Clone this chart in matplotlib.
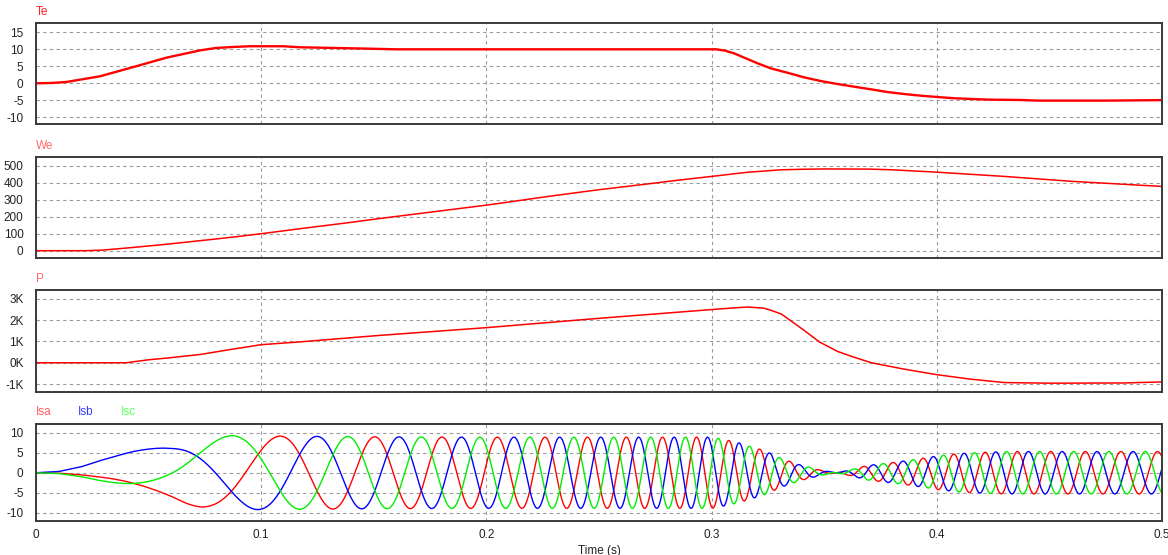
"""
Recreacion de la grafica tipo PSIM: Te, We, P y corrientes de fase Isa/Isb/Isc.
"""

import numpy as np
import matplotlib.pyplot as plt
from matplotlib.ticker import FuncFormatter

plt.rcParams['font.family'] = ['Liberation Sans', 'DejaVu Sans']
plt.rcParams['axes.unicode_minus'] = False

# ─── Datos ──────────────────────────────────────────────────────────────────
# Par electromagnetico Te
te_t = [0, 0.007, 0.0136, 0.0284, 0.0433, 0.058, 0.073, 0.08, 0.088, 0.095,
        0.11, 0.117, 0.132, 0.147, 0.16, 0.30, 0.302, 0.306, 0.31, 0.315,
        0.32, 0.3262, 0.3336, 0.341, 0.3484, 0.3558, 0.3633, 0.3707, 0.378,
        0.3855, 0.393, 0.4003, 0.4077, 0.415, 0.4225, 0.437, 0.445, 0.474, 0.50]
te_v = [0, 0.1, 0.4, 2.06, 4.8, 7.55, 9.7, 10.4, 10.7, 10.9,
        10.9, 10.6, 10.4, 10.2, 10.0, 10.0, 10.0, 9.6, 8.8, 7.4,
        6.0, 4.41, 3.12, 1.76, 0.68, -0.2, -1.0, -1.76, -2.56,
        -3.15, -3.65, -4.03, -4.4, -4.6, -4.8, -4.9, -5.1, -5.1, -4.95]

# Velocidad electrica We (rad/s)
we_t = [0, 0.022, 0.03, 0.043, 0.058, 0.07, 0.08, 0.09, 0.10, 0.12, 0.14,
        0.153, 0.2, 0.2119, 0.2267, 0.2489, 0.2711, 0.2859, 0.30, 0.3156,
        0.331, 0.34, 0.35, 0.37, 0.38, 0.40, 0.43, 0.46, 0.50]
we_v = [0, 0, 4, 19, 38, 55, 69, 84, 100, 134, 167,
        190, 268, 290, 318, 357, 392, 416, 437, 461,
        476, 479, 481, 480, 476, 462, 437, 408, 378]

# Potencia P (kW)
p_t = [0, 0.04, 0.05, 0.058, 0.073, 0.085, 0.10, 0.117, 0.153, 0.20, 0.249,
       0.30, 0.31, 0.316, 0.323, 0.326, 0.331, 0.341, 0.348, 0.356, 0.363,
       0.371, 0.385, 0.40, 0.415, 0.43, 0.45, 0.483, 0.50]
p_v = [0, 0, 0.14, 0.22, 0.39, 0.6, 0.85, 0.98, 1.29, 1.65, 2.08,
       2.5, 2.58, 2.62, 2.57, 2.48, 2.29, 1.53, 0.97, 0.53, 0.27,
       0.0, -0.29, -0.56, -0.77, -0.93, -0.96, -0.95, -0.9]

# Amplitud (con signo) de las corrientes de fase (A)
ia_t = [0, 0.01, 0.02, 0.028, 0.036, 0.043, 0.05, 0.06, 0.067, 0.074, 0.081,
        0.088, 0.10, 0.15, 0.20, 0.29, 0.30, 0.304, 0.3115, 0.317, 0.322,
        0.326, 0.33, 0.335, 0.339, 0.344, 0.348, 0.3555, 0.363, 0.369, 0.375,
        0.381, 0.39, 0.396, 0.40, 0.41, 0.42, 0.43, 0.50]
ia_amp = [0, 0.3, 1.5, 3.0, 4.3, 5.3, 6.0, 6.9, 7.9, 8.7, 9.1,
          9.3, 9.2, 9.0, 8.9, 8.9, 8.9, 8.5, 7.6, 6.6, 5.8,
          4.9, 3.8, 2.8, 2.0, 1.3, 0.7, 0.0, -0.9, -1.8, -2.2,
          -2.6, -3.3, -3.8, -4.2, -4.8, -5.1, -5.3, -5.3]
theta0_deg = 110  # angulo electrico inicial

# ─── Corrientes trifasicas a partir de We y la envolvente ───────────────────
t = np.linspace(0, 0.5, 10001)
we = np.interp(t, we_t, we_v)
theta = np.radians(theta0_deg) + np.concatenate(
    [[0], np.cumsum(0.5 * (we[1:] + we[:-1]) * np.diff(t))])
amp = np.interp(t, ia_t, ia_amp)
isa = amp * np.cos(theta)
isb = amp * np.cos(theta - 2 * np.pi / 3)
isc = amp * np.cos(theta + 2 * np.pi / 3)

# ─── Figura ────────────────────────────────────────────────────────────────
fig = plt.figure(figsize=(11.68, 5.55), dpi=100)
fig.patch.set_facecolor("white")

W = 1168.0
H = 555.0
left = 36 / W
width = 1126 / W
boxes = [(23.3, 124.3), (156.7, 258.3), (290, 391.7), (424, 520.7)]
axes = []
for top, bot in boxes:
    ax = fig.add_axes([left, 1 - bot / H, width, (bot - top) / H])
    axes.append(ax)

ax_te, ax_we, ax_p, ax_i = axes

ax_te.plot(te_t, te_v, color="#ff0000", linewidth=1.7)
ax_we.plot(we_t, we_v, color="#ff0000", linewidth=1.1)
ax_p.plot(p_t, p_v, color="#ff0000", linewidth=1.1)
ax_i.plot(t, isa, color="#ff0000", linewidth=1.0)
ax_i.plot(t, isb, color="#0000ff", linewidth=1.0)
ax_i.plot(t, isc, color="#00ee00", linewidth=1.0)

ax_te.set_ylim(-12.06, 17.65)
ax_te.set_yticks([-10, -5, 0, 5, 10, 15])
ax_we.set_ylim(-44.7, 553)
ax_we.set_yticks([0, 100, 200, 300, 400, 500])
ax_p.set_ylim(-1.36, 3.42)
ax_p.set_yticks([-1, 0, 1, 2, 3])
ax_p.yaxis.set_major_formatter(FuncFormatter(lambda v, pos: "%dK" % round(v)))
ax_i.set_ylim(-12.0, 12.2)
ax_i.set_yticks([-10, -5, 0, 5, 10])

for ax in axes:
    ax.set_xlim(0, 0.5)
    ax.set_xticks([0, 0.1, 0.2, 0.3, 0.4, 0.5])
    ax.grid(True, color="#9a9a9a", linestyle=(0, (3, 3)), linewidth=0.8)
    ax.tick_params(length=0, labelsize=8.5, colors="#222222", pad=9)
    for spine in ax.spines.values():
        spine.set_edgecolor("#3a3a3a")
        spine.set_linewidth(1.4)
    if ax is not ax_i:
        ax.tick_params(labelbottom=False)

ax_i.set_xticklabels(["0", "0.1", "0.2", "0.3", "0.4", "0.5"])
ax_i.tick_params(axis="x", pad=6)
ax_i.set_xlabel("Time (s)", fontsize=8.5, color="#222222", labelpad=3)

# Etiquetas de las senales sobre cada panel
for ax, name, c in [(ax_te, "Te", "#ff2020"), (ax_we, "We", "#ff6a6a"),
                    (ax_p, "P", "#ff6a6a")]:
    top_px = (1 - ax.get_position().y1) * H
    fig.text(left, 1 - (top_px - 8) / H, name, color=c, fontsize=8.5,
             va="baseline", ha="left")
for x_px, name, c in [(36, "Isa", "#ff5a5a"), (78, "Isb", "#3a3aff"),
                      (121, "Isc", "#5aff5a")]:
    fig.text(x_px / W, 1 - 415 / H, name, color=c, fontsize=8.5,
             va="baseline", ha="left")

plt.savefig("out.png", dpi=100, facecolor="white")
